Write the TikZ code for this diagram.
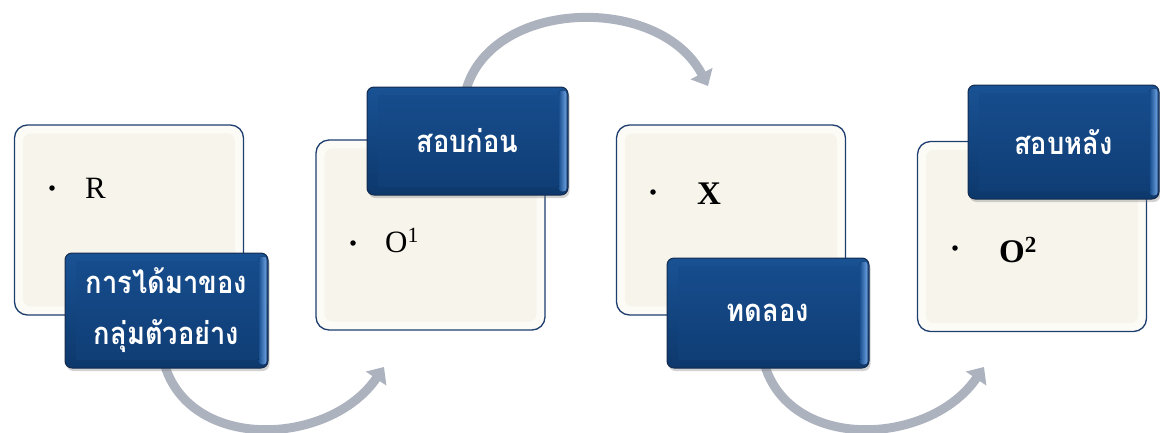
\documentclass[tikz,border=0pt]{standalone}
\usepackage{fontspec}
\setmainfont{Liberation Serif}
\newfontfamily\thaifont[Script=Thai,FakeStretch=0.88]{Loma}
\usetikzlibrary{arrows.meta,shadows}
\definecolor{creamrim}{RGB}{252,251,245}
\definecolor{creamface}{RGB}{246,244,235}
\definecolor{navyedge}{RGB}{30,62,112}
\definecolor{bluetop}{RGB}{25,82,148}
\definecolor{bluebot}{RGB}{13,56,108}
\definecolor{facetop}{RGB}{22,76,140}
\definecolor{facebot}{RGB}{16,62,118}
\definecolor{bluehi}{RGB}{110,162,228}
\definecolor{arrowgray}{RGB}{172,178,190}
\tikzset{
  creambox/.style={draw=navyedge, line width=1.3pt, fill=creamrim, rounded corners=13pt,
    minimum width=229pt, minimum height=190pt, inner sep=0pt},
  bluebox/.style={draw=navyedge!70!black, line width=1pt, rounded corners=7pt,
    top color=bluetop, bottom color=bluebot, inner sep=0pt,
    drop shadow={shadow xshift=1.5pt, shadow yshift=-3pt, opacity=0.35}},
  bluetext/.style={text=white, font=\thaifont\bfseries\fontsize{31}{51}\selectfont, align=center, inner sep=0pt},
  bulletmark/.style={circle, fill=black, inner sep=0pt, minimum size=5.5pt},
  letter/.style={anchor=base west, inner sep=0pt, font=\fontsize{31}{31}\selectfont},
  bletter/.style={anchor=base west, inner sep=0pt, font=\bfseries\fontsize{33}{33}\selectfont},
  flowarrow/.style={draw=arrowgray, line width=9pt, -{Triangle[length=14pt,width=24pt]}}
}
\newcommand\creamface[1]{\fill[creamface, rounded corners=8pt] ([shift={(9,9)}]#1.north west) rectangle ([shift={(-9,-9)}]#1.south east);}
\newcommand\bluebevel[1]{%
  \fill[left color=facetop, right color=bluehi, rounded corners=3pt] ([shift={(-10,4)}]#1.north east) rectangle ([shift={(-2,-4)}]#1.south east);
  \fill[top color=facetop, bottom color=facebot] ([shift={(12,9)}]#1.north west) rectangle ([shift={(-10,-9)}]#1.south east);}
\begin{document}
\begin{tikzpicture}[x=1pt,y=-1pt]
\useasboundingbox[fill=white] (0,0) rectangle (1160,432);
% arrows
\coordinate (a1s) at (165,366);
\coordinate (a1e) at (384,367);
\coordinate (a2s) at (466,90);
\coordinate (a2e) at (708,86);
\coordinate (a3s) at (765,366);
\coordinate (a3e) at (984,367);
\draw[flowarrow] (a1s) .. controls (192,452) and (330,446) .. (a1e);
\draw[flowarrow] (a2s) .. controls (492,-2) and (660,-6) .. (a2e);
\draw[flowarrow] (a3s) .. controls (792,452) and (930,446) .. (a3e);
% cream boxes
\node[creambox] (c1) at (129,220) {};
\creamface{c1}
\node[creambox] (c2) at (430.5,235) {};
\creamface{c2}
\node[creambox] (c3) at (731,220) {};
\creamface{c3}
\node[creambox] (c4) at (1032,236.5) {};
\creamface{c4}
% contents
\node[bulletmark] (d1) at (52,188) {};
\node[letter] (l1) at (85,198) {R};
\node[bulletmark] (d2) at (353,243) {};
\node[letter] (l2) at (385,252) {O\textsuperscript{1}};
\node[bulletmark] (d3) at (653,192) {};
\node[bletter] (l3) at (697,204) {X};
\node[bulletmark] (d4) at (955,248) {};
\node[bletter] (l4) at (999,262) {O\textsuperscript{2}};
% blue boxes
\node[bluebox, minimum width=203pt, minimum height=115pt] (b1) at (166.5,310.5) {};
\bluebevel{b1}
\node[bluetext] (t1) at (b1) {การได้มาของ\\กลุ่มตัวอย่าง};
\node[bluebox, minimum width=201pt, minimum height=108pt] (b2) at (467.5,141) {};
\bluebevel{b2}
\node[bluetext] (t2) at (b2) {สอบก่อน};
\node[bluebox, minimum width=202pt, minimum height=110pt] (b3) at (768,313) {};
\bluebevel{b3}
\node[bluetext] (t3) at (b3) {ทดลอง};
\node[bluebox, minimum width=191pt, minimum height=114pt] (b4) at (1063.5,142) {};
\bluebevel{b4}
\node[bluetext] (t4) at (b4) {สอบหลัง};
\end{tikzpicture}
\end{document}
